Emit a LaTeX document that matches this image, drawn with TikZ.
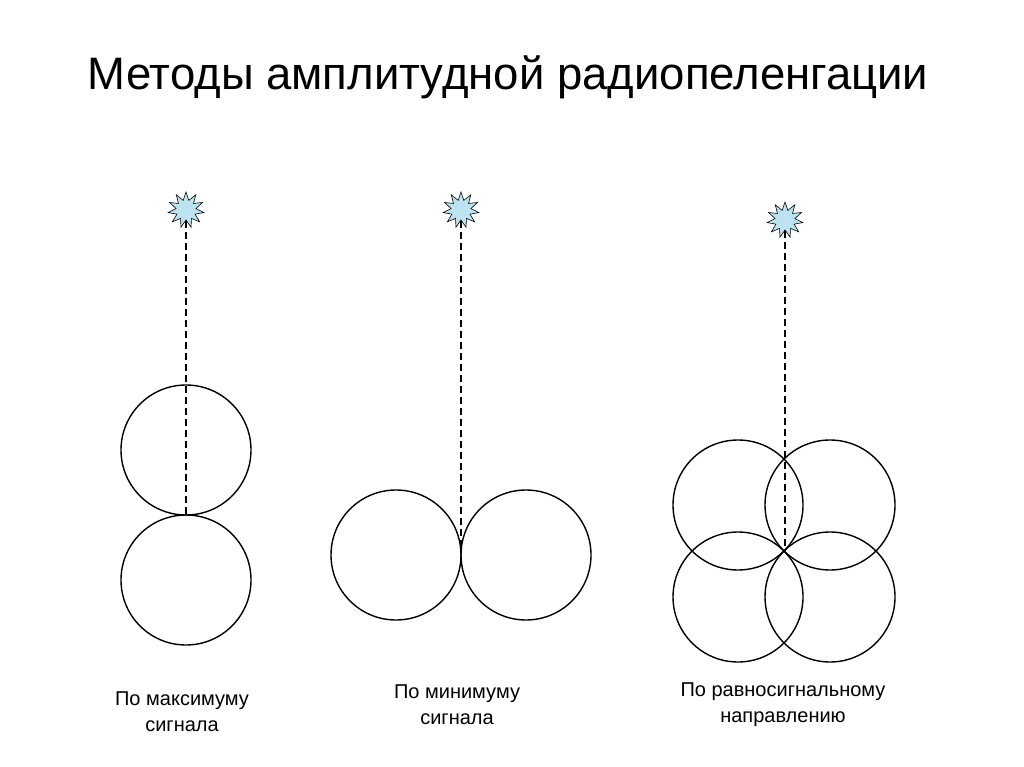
\documentclass[tikz,border=0pt]{standalone}
\usepackage{fontspec}
\setmainfont{Liberation Sans}
\usetikzlibrary{shapes.geometric}
\begin{document}
\begin{tikzpicture}[x=1pt,y=-1pt,
  burst/.style={star,star points=11,star point ratio=1.8,minimum size=36pt,inner sep=0pt,draw=black,fill=cyan!25!white!90!gray,line width=0.6pt},
  ring/.style={draw=black,line width=1.4pt},
  ray/.style={line width=2pt,dash pattern=on 7pt off 4pt},
  lbl/.style={align=center,font=\fontsize{20}{26}\selectfont}]
\useasboundingbox (0,0) rectangle (1024,767);
\node[font=\fontsize{45.5}{52}\selectfont] (t) at (508,77) {Методы амплитудной радиопеленгации};
% left
\node[burst] (s1) at (186,210) {};
\coordinate (e1) at (186,515);
\draw[ray] (s1.south) -- (e1);
\draw[ring] (186,450) circle (65);
\draw[ring] (186,580) circle (65);
\node[lbl] (l1) at (182,712) {По максимуму\\сигнала};
% middle
\node[burst] (s2) at (461,210) {};
\coordinate (e2) at (461,545);
\draw[ray] (s2.south) -- (e2);
\draw[ring] (396,555) circle (65);
\draw[ring] (526,555) circle (65);
\node[lbl] (l2) at (457,705) {По минимуму\\сигнала};
% right
\node[burst] (s3) at (785,220) {};
\coordinate (e3) at (785,550);
\draw[ray] (s3.south) -- (e3);
\draw[ring] (738,505) circle (65);
\draw[ring] (830,505) circle (65);
\draw[ring] (738,597) circle (65);
\draw[ring] (830,597) circle (65);
\node[lbl] (l3) at (783,705) {По равносигнальному\\направлению};
\end{tikzpicture}
\end{document}
